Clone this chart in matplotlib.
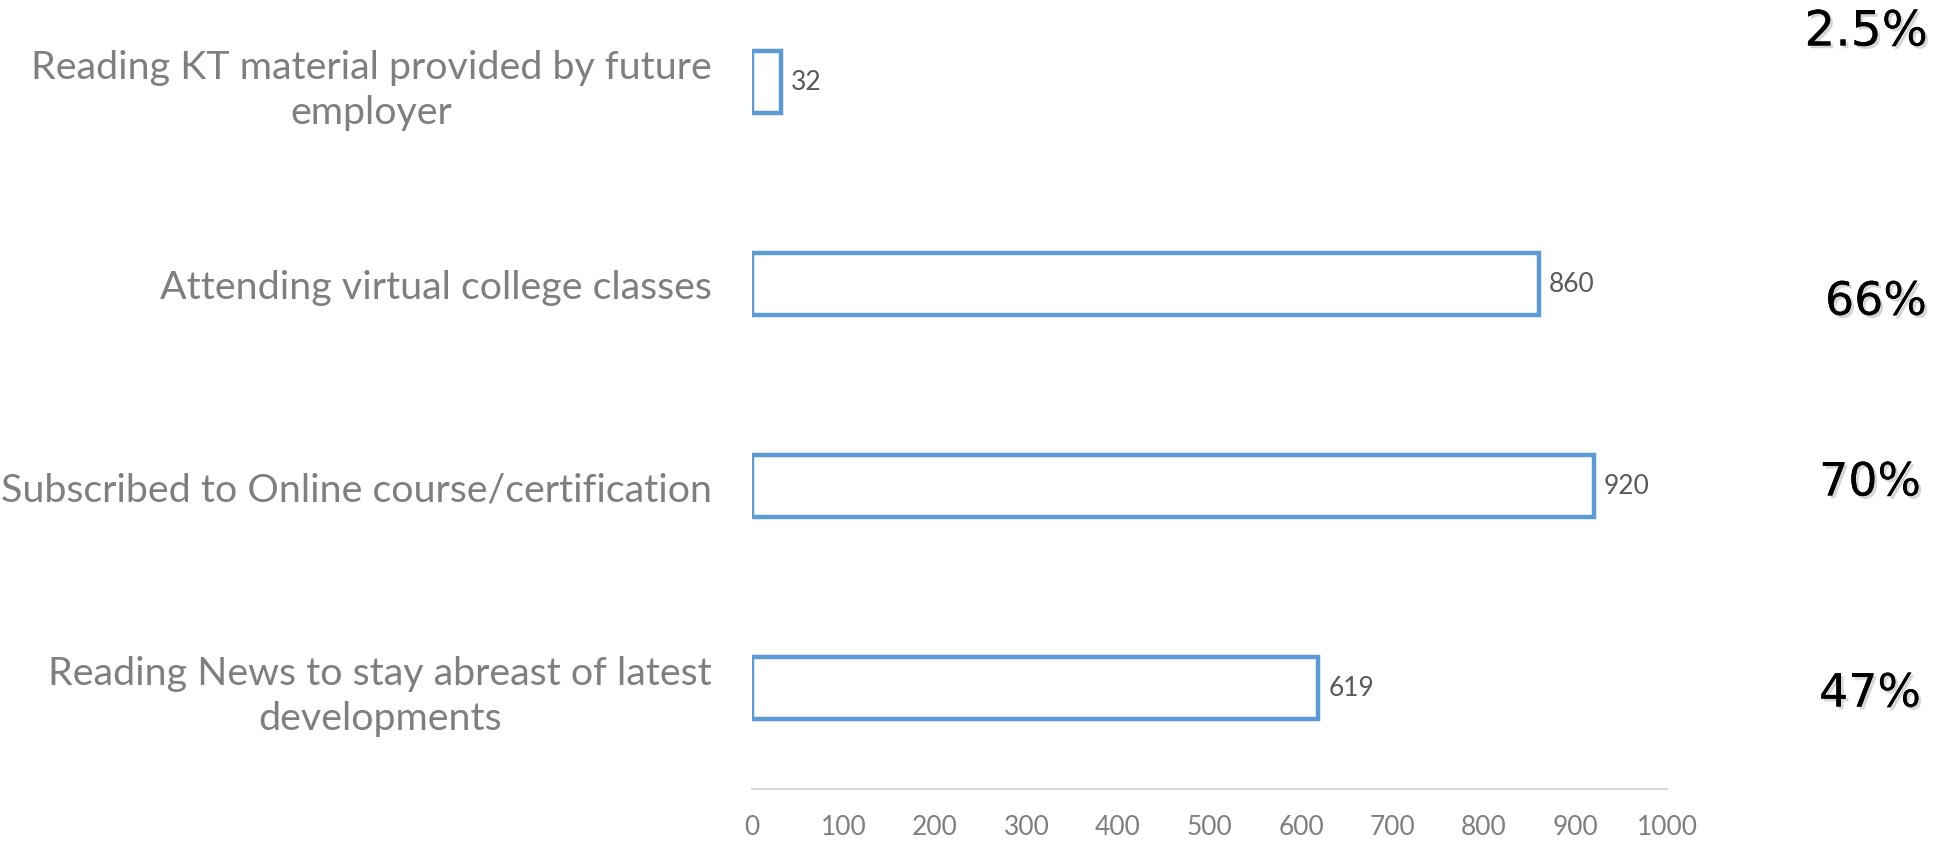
import matplotlib
matplotlib.use("Agg")
import matplotlib.pyplot as plt
import matplotlib.patheffects as pe
import matplotlib.transforms as mtransforms

# ---- data ----
categories = [
    "Reading News to stay abreast of latest\ndevelopments",
    "Subscribed to Online course/certification",
    "Attending virtual college classes",
    "Reading KT material provided by future\nemployer",
]
values = [619, 920, 860, 32]
percent_labels = ["47%", "70%", "66%", "2.5%"]
x_ticks = [0, 100, 200, 300, 400, 500, 600, 700, 800, 900, 1000]

# ---- layout/style ----
W, H, DPI = 1939, 845, 100
pct_y_shift = [-0.03, 0.015, -0.09, 0.25]
pct_x = [1870, 1870, 1876, 1866]
pct_size = [33, 33, 33, 35]
bar_color = "#5B9BD5"
label_font = "Lato"

fig = plt.figure(figsize=(W / DPI, H / DPI), dpi=DPI)
ax_left, ax_right = 752 / W, 1667 / W
axis_y = 790
ax_bottom = 1 - axis_y / H
ax = fig.add_axes([ax_left, ax_bottom, ax_right - ax_left, 1 - ax_bottom])

ypos = list(range(len(categories)))
ax.barh(ypos, values, height=0.31, facecolor="white", edgecolor=bar_color,
        linewidth=3.2)
ax.set_xlim(0, 1000)
ax.set_ylim(-0.5, -0.5 + axis_y / 202)

for y, v in zip(ypos, values):
    ax.text(v + 11, y, str(v), va="center", ha="left", fontsize=19,
            color="#595959", family=label_font)

blend = mtransforms.blended_transform_factory(fig.transFigure, ax.transData)
for y, p, dy, px, fs in zip(ypos, percent_labels, pct_y_shift, pct_x, pct_size):
    ax.text(px / W, y + dy, p, transform=blend,
            ha="center", va="center", fontsize=fs, color="black",
            family="DejaVu Sans", clip_on=False,
            path_effects=[pe.withSimplePatchShadow(offset=(2, -2), shadow_rgbFace="#999999", alpha=0.4), pe.Normal()])

ax.set_yticks(ypos)
ax.set_yticklabels(categories, fontsize=28.4, color="#7F7F7F", family=label_font,
                   ha="right", multialignment="center", linespacing=1.3)
ax.set_xticks(x_ticks)
ax.set_xticklabels([str(t) for t in x_ticks], fontsize=19, color="#7F7F7F",
                   family=label_font)
ax.tick_params(axis="both", length=0)
ax.tick_params(axis="y", pad=29)
ax.tick_params(axis="x", pad=18)
for s in ["top", "right", "left"]:
    ax.spines[s].set_visible(False)
ax.spines["bottom"].set_color("#D9D9D9")
ax.spines["bottom"].set_linewidth(1.5)

fig.savefig("out.png", dpi=DPI)
